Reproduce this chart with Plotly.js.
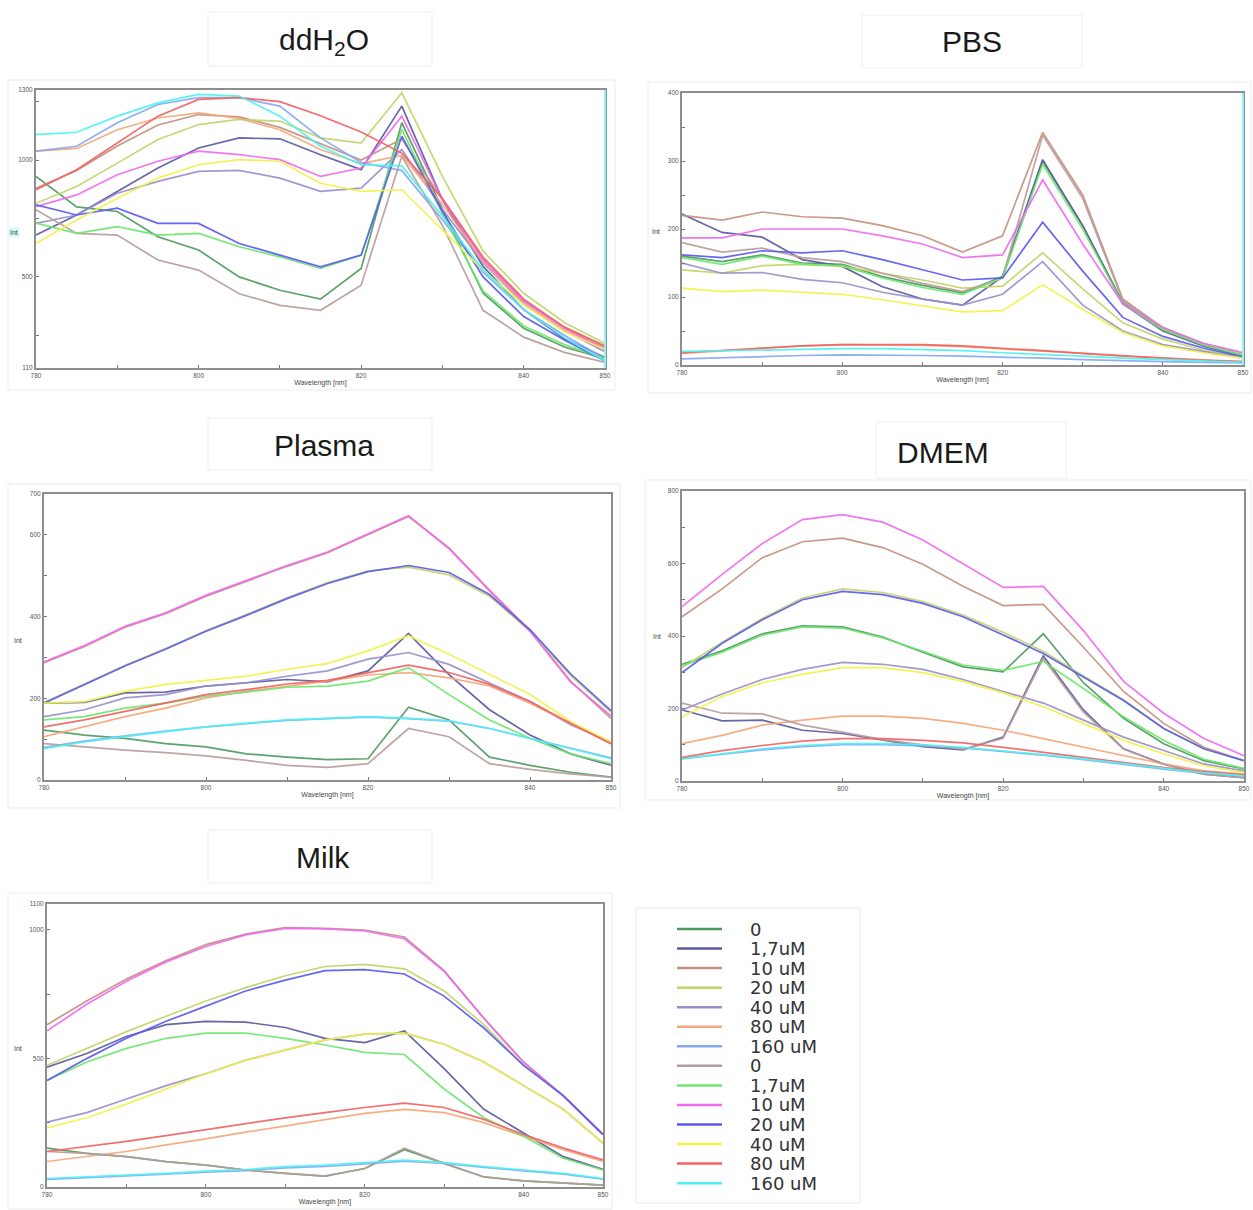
<!DOCTYPE html>
<html><head><meta charset="utf-8">
<script src="https://cdn.plot.ly/plotly-3.0.1.min.js"></script>
<style>html,body{margin:0;padding:0;background:#fff}</style>
</head><body><div id="chart" style="width:1253px;height:1210px"></div>
<script>
// ---------------- DATA ----------------
const wavelength = [780,785,790,795,800,805,810,815,820,825,830,835,840,845,850];
const seriesNames = ['0','1,7uM','10 uM','20 uM','40 uM','80 uM','160 uM','0','1,7uM','10 uM','20 uM','40 uM','80 uM','160 uM'];
const seriesColors = ['#4e9a5e','#5a5a9e','#c4907e','#c2d46a','#9890cc','#f4a77a','#85a8f2',
                      '#b89c9c','#6ee66e','#f06af0','#5a5af0','#f2f24a','#f26262','#4cf2f2'];
const panelTitles = ['ddH<sub>2</sub>O','PBS','Plasma','DMEM','Milk'];
const xTickVals = [780,800,820,840,850];

// each panel: 14 series, order as seriesNames
const ddh2o = [
  [930,800,780,672,615,500,443,405,536,1160,790,430,280,200,150],
  [679,765,866,966,1052,1095,1091,1023,959,1231,830,545,360,235,155],
  [880,955,1060,1150,1195,1185,1140,1070,1000,1090,830,575,400,285,205],
  [815,887,987,1088,1152,1174,1167,1095,1073,1288,930,610,430,305,215],
  [729,765,858,909,952,956,923,866,880,1045,790,560,385,270,180],
  [1038,1050,1130,1180,1202,1178,1130,1045,985,1020,810,565,385,270,190],
  [1038,1059,1160,1238,1267,1267,1231,1095,990,955,745,520,360,250,150],
  [787,686,679,572,529,428,378,357,464,1016,720,357,242,177,134],
  [730,686,715,679,686,629,586,536,593,1131,770,440,290,210,150],
  [801,851,937,995,1038,1023,1002,930,966,1188,830,575,395,280,190],
  [808,765,794,729,729,643,593,543,593,1102,780,500,330,230,140],
  [643,744,837,923,980,1002,995,901,866,873,701,529,380,265,190],
  [873,959,1073,1188,1260,1267,1250,1190,1120,1030,835,585,405,285,200],
  [1109,1119,1188,1245,1281,1274,1188,1059,980,975,760,530,360,240,140]
];
const pbs = [
  [160,152,162,150,148,130,117,106,130,300,205,92,52,30,14],
  [222,195,188,155,145,115,97,88,130,302,205,90,50,28,13],
  [220,213,225,218,216,205,190,166,190,342,250,97,55,32,18],
  [140,135,146,148,145,135,125,113,116,165,112,62,38,22,12],
  [150,135,136,126,121,107,97,88,104,152,88,50,30,20,10],
  [17,21,25,28,30,30,29,27,24,21,17,13,10,7,5],
  [9,11,13,14,15,15,14,13,12,10,8,6,5,4,3],
  [180,166,172,158,152,135,120,108,128,338,245,95,55,30,15],
  [158,148,160,148,146,128,114,104,128,295,200,90,52,30,14],
  [187,187,200,200,200,190,178,158,162,272,178,90,55,32,18],
  [162,158,168,165,168,155,140,125,128,210,138,70,42,25,12],
  [113,108,110,107,104,96,87,78,80,118,82,48,28,18,10],
  [18,22,25,28,30,30,30,28,25,21,17,13,10,7,5],
  [20,21,23,24,24,24,23,21,18,16,13,10,8,6,4]
];
const plasma = [
  [122,110,102,89,81,64,56,50,52,178,147,56,36,19,7],
  [188,190,213,215,230,238,246,240,267,359,258,172,110,64,36],
  [287,327,374,407,450,486,523,556,601,645,568,465,366,242,151],
  [190,236,281,322,366,405,446,483,512,521,502,450,364,256,166],
  [155,172,201,209,230,238,254,267,296,312,283,238,192,135,93],
  [106,130,155,176,201,217,230,242,257,263,250,230,188,139,89],
  [80,95,108,120,130,138,146,150,154,150,144,126,102,78,54],
  [89,81,73,67,59,48,36,31,40,126,106,40,26,15,7],
  [147,155,176,188,205,215,227,230,242,275,209,147,102,64,40],
  [289,329,376,409,452,488,525,558,603,647,566,463,364,240,157],
  [188,234,279,320,364,403,444,481,510,525,508,454,368,260,170],
  [188,192,217,234,244,254,271,285,316,353,308,258,209,143,93],
  [130,147,168,188,209,221,235,244,263,281,263,234,192,139,89],
  [77,93,106,118,130,139,147,151,155,151,145,126,102,77,52]
];
const dmem = [
  [322,359,406,428,425,397,355,315,301,406,271,173,103,56,33],
  [196,166,168,140,131,112,95,86,121,345,196,89,47,19,9],
  [453,530,616,660,670,644,598,537,484,487,369,247,159,93,56],
  [313,383,448,505,530,520,495,458,410,358,290,224,145,89,56],
  [196,240,280,308,327,322,308,280,247,215,168,121,84,47,28],
  [103,126,154,168,179,179,173,159,140,117,93,70,47,28,19],
  [62,74,86,95,100,100,97,91,82,71,59,45,33,21,12],
  [215,187,185,154,135,114,100,88,118,338,190,88,46,19,9],
  [318,355,402,425,422,395,358,320,305,330,255,177,112,60,35],
  [481,570,655,721,735,714,665,600,534,537,415,275,187,117,70],
  [299,380,445,500,523,514,490,453,403,352,287,222,145,89,56],
  [177,233,271,294,313,313,299,275,243,205,159,112,75,42,23],
  [65,84,98,110,117,117,112,105,93,79,65,51,37,26,17],
  [61,75,89,98,103,103,100,93,84,73,61,47,35,23,14]
];
const milk = [
  [151,131,118,99,85,66,53,42,72,145,92,39,24,16,7],
  [466,519,585,631,644,641,620,578,561,607,460,302,210,118,68],
  [631,723,808,880,942,983,1008,1005,999,972,841,657,486,355,204],
  [473,539,604,664,723,775,821,857,865,848,762,631,473,355,204],
  [252,289,342,394,440,493,532,572,594,598,555,486,394,302,171],
  [99,118,138,164,187,213,237,263,286,302,289,250,197,145,99],
  [30,36,43,50,58,64,74,80,90,100,92,76,63,50,30],
  [138,131,118,99,85,66,53,42,72,151,92,39,24,16,7],
  [414,486,539,578,598,598,578,552,523,515,381,269,197,112,66],
  [607,710,800,875,935,980,1005,1003,995,965,838,655,484,353,204],
  [414,499,578,644,703,762,804,841,845,828,742,618,473,355,204],
  [230,269,322,381,440,493,532,572,594,598,555,486,394,302,171],
  [138,158,177,200,223,247,269,289,309,326,309,263,204,151,105],
  [33,39,46,53,62,68,79,85,95,105,95,79,66,53,33]
];
const yRanges = [[110,1300],[0,400],[0,700],[0,800],[0,1100]];
const yTickVals = [[110,500,1000,1300],[0,100,200,300,400],[0,200,400,600,700],[0,200,400,600,800],[0,500,1000,1100]];
const yMinorVals = [[250,750,1250],[50,150,250,350],[100,300,500],[100,300,500,700],[250,750]];

// ---------------- LAYOUT (pixel geometry) ----------------
const W = 1253, H = 1210;
const px = v => v / W, py = v => 1 - v / H;
const geom = [
  {data: ddh2o,  plot:[36,605,90,368],   tbox:[208,432,12,66],   tc:[324,42],  frame:[8,615,80,390],    intp:[14,233],  cyanRight:true},
  {data: pbs,    plot:[682,1243,93,365], tbox:[862,1082,15,68],  tc:[972,42],  frame:[648,1251,82,393], intp:[656,232], cyanRight:true},
  {data: plasma, plot:[44,611,494,780],  tbox:[208,432,418,470], tc:[324,446], frame:[8,620,484,808],   intp:[18,640],  cyanRight:false},
  {data: dmem,   plot:[682,1244,491,781],tbox:[876,1066,422,478],tc:[943,452], frame:[645,1251,480,800], intp:[657,636], cyanRight:false},
  {data: milk,   plot:[47,603,904,1187], tbox:[208,432,830,883], tc:[323,857], frame:[8,612,893,1209],  intp:[18,1048], cyanRight:false}
];

const traces = [];
const layout = {
  width: W, height: H, margin:{l:0,r:0,t:0,b:0},
  paper_bgcolor:'#fff', plot_bgcolor:'#fff', showlegend:false,
  font:{family:'Liberation Sans, Arial, sans-serif', color:'#333'},
  shapes:[], annotations:[]
};

geom.forEach((g, p) => {
  const suf = p === 0 ? '' : String(p + 1);
  g.data.forEach((ys, i) => {
    traces.push({
      type:'scatter', mode:'lines', x: wavelength, y: ys,
      name: seriesNames[i], xaxis:'x'+suf, yaxis:'y'+suf,
      line:{color: seriesColors[i], width:1.7}, opacity:0.92, hoverinfo:'skip'
    });
  });
  const [x0,x1,y0,y1] = g.plot;
  layout['xaxis'+suf] = {
    domain:[px(x0), px(x1)], range:[780,850], anchor:'y'+suf,
    showline:true, mirror:true, linecolor:'#8e8e8e', linewidth:2,
    ticks:'inside', ticklen:3, tickcolor:'#777', tickwidth:1,
    tickmode:'array', tickvals:xTickVals, ticktext:xTickVals.map(String),
    tickfont:{size:6.5, color:'#555'}, showgrid:false, zeroline:false,
    minor:{tickvals:[790,810,830], ticks:'inside', ticklen:3, tickcolor:'#777'},
    title:{text:'Wavelength [nm]', font:{size:7, color:'#444'}, standoff:2},
    fixedrange:true
  };
  layout['yaxis'+suf] = {
    domain:[py(y1), py(y0)], range:yRanges[p], anchor:'x'+suf,
    showline:true, mirror:true, linecolor:'#8e8e8e', linewidth:2,
    ticks:'inside', ticklen:3, tickcolor:'#777', tickwidth:1,
    tickmode:'array', tickvals:yTickVals[p], ticktext:yTickVals[p].map(String),
    tickfont:{size:6.5, color:'#555'}, showgrid:false, zeroline:false,
    minor:{tickvals:yMinorVals[p], ticks:'inside', ticklen:3, tickcolor:'#777'},
    fixedrange:true
  };
  // outer faint frame
  layout.shapes.push({type:'rect', xref:'paper', yref:'paper', x0:px(g.frame[0]), x1:px(g.frame[1]),
    y0:py(g.frame[3]), y1:py(g.frame[2]), line:{color:'#ececec', width:1}, layer:'below'});
  // title box
  layout.shapes.push({type:'rect', xref:'paper', yref:'paper', x0:px(g.tbox[0]), x1:px(g.tbox[1]),
    y0:py(g.tbox[3]), y1:py(g.tbox[2]), line:{color:'#eeeeee', width:1}, layer:'below'});
  layout.annotations.push({xref:'paper', yref:'paper', x:px(g.tc[0]), y:py(g.tc[1]),
    xanchor:'center', yanchor:'middle', showarrow:false, text:panelTitles[p],
    font:{family:'Liberation Sans, Arial, sans-serif', size:30, color:'#1a1a1a'}});
  // y label "Int" (horizontal)
  layout.annotations.push({xref:'paper', yref:'paper', x:px(g.intp[0]), y:py(g.intp[1]),
    xanchor:'center', yanchor:'middle', showarrow:false, text:'Int',
    font:{size:7, color:'#444'}, bgcolor: p === 0 ? '#d6fafa' : 'rgba(0,0,0,0)'});
  if (g.cyanRight) {
    layout.shapes.push({type:'line', xref:'paper', yref:'paper', x0:px(x1), x1:px(x1),
      y0:py(y1), y1:py(y0), line:{color:'#8ff2f6', width:2}});
  }
});

// legend (drawn in paper space from the names/colours arrays)
const legX0 = 677, legX1 = 722, legText = 748, legY0 = 929, legStep = 19.55;
layout.shapes.push({type:'rect', xref:'paper', yref:'paper', x0:px(636), x1:px(860), y0:py(1203), y1:py(908),
  line:{color:'#ececec', width:1}, layer:'below'});
seriesNames.forEach((nm, i) => {
  const yy = legY0 + i * legStep;
  layout.shapes.push({type:'line', xref:'paper', yref:'paper', x0:px(legX0), x1:px(legX1), y0:py(yy), y1:py(yy),
    line:{color:seriesColors[i], width:2.5}});
  layout.annotations.push({xref:'paper', yref:'paper', x:px(legText), y:py(yy), xanchor:'left', yanchor:'middle',
    showarrow:false, text:nm, font:{family:'DejaVu Sans, sans-serif', size:18, color:'#333'}});
});

Plotly.newPlot('chart', traces, layout, {displayModeBar:false, staticPlot:true});
</script></body></html>
